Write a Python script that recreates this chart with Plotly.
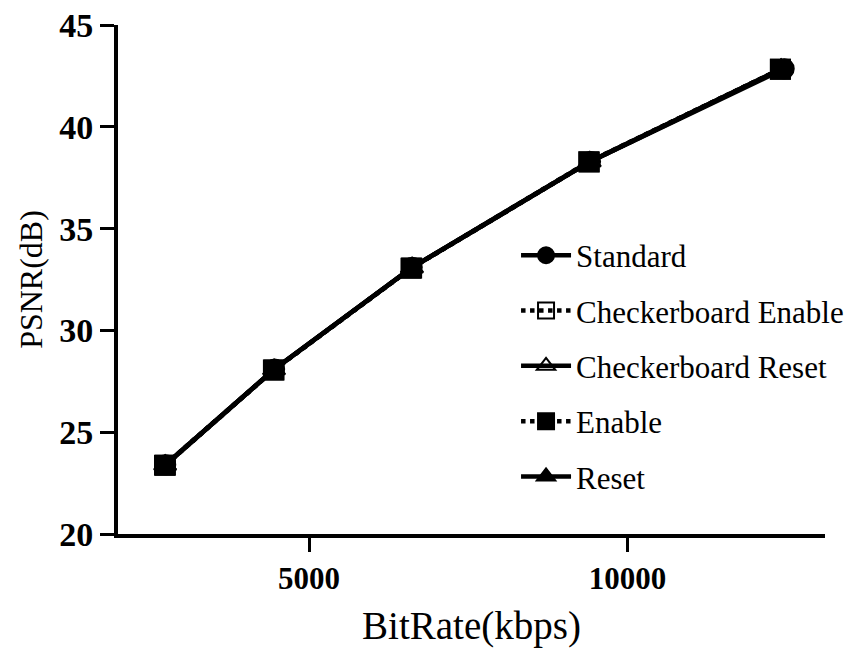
import plotly.graph_objects as go

bitrate_standard = [2750, 4460, 6620, 9420, 12460]
bitrate_cb_enable = [2730, 4440, 6600, 9390, 12400]
bitrate_cb_reset = [2740, 4450, 6610, 9400, 12410]
bitrate_enable = [2745, 4450, 6610, 9400, 12400]
bitrate_reset = [2740, 4450, 6620, 9410, 12410]

psnr_standard = [23.40, 28.10, 33.10, 38.30, 42.85]
psnr_cb_enable = [23.38, 28.05, 33.05, 38.28, 42.83]
psnr_cb_reset = [23.39, 28.08, 33.08, 38.29, 42.84]
psnr_enable = [23.38, 28.06, 33.06, 38.27, 42.83]
psnr_reset = [23.39, 28.09, 33.09, 38.29, 42.84]

x_ticks = [5000, 10000]
y_ticks = [20, 25, 30, 35, 40, 45]

names = ["Standard", "Checkerboard Enable", "Checkerboard Reset", "Enable", "Reset"]
xs = [bitrate_standard, bitrate_cb_enable, bitrate_cb_reset, bitrate_enable, bitrate_reset]
series = [psnr_standard, psnr_cb_enable, psnr_cb_reset, psnr_enable, psnr_reset]
symbols = ["circle", "square-open", "triangle-up-open", "square", "triangle-up"]
dashes = ["solid", "dot", "solid", "dot", "solid"]

fig = go.Figure()
for i, (n, xv, ys, sym, d) in enumerate(zip(names, xs, series, symbols, dashes)):
    fig.add_trace(go.Scatter(
        x=xv, y=ys, name=n, mode="lines+markers",
        line=dict(color="black", width=4.5, dash=d),
        marker=dict(symbol=sym, size=19, color="black",
                    line=dict(color="black", width=2)),
        legendgroup=f"g{i}",
    ))

fig.update_layout(
    width=861, height=656,
    margin=dict(l=110, r=44, t=17, b=130, autoexpand=False),
    paper_bgcolor="white", plot_bgcolor="white",
    font=dict(family="Liberation Serif", color="black"),
    showlegend=True,
    legend=dict(
        x=0.563, y=0.60, xanchor="left", yanchor="top",
        font=dict(family="Liberation Serif", size=31, color="black"),
        tracegroupgap=12, bgcolor="rgba(0,0,0,0)", itemwidth=50,
    ),
    xaxis=dict(
        range=[2000, 13100], tickvals=x_ticks, ticktext=[f"<b>{v}</b>" for v in x_ticks],
        showgrid=False, zeroline=False, showline=True, linecolor="black", linewidth=4,
        ticks="outside", ticklen=14, tickwidth=3, tickcolor="black", automargin=False,
        tickfont=dict(family="Liberation Serif", size=31, color="black"),
        title=dict(text="BitRate(kbps)", font=dict(family="Liberation Serif", size=39, color="black"), standoff=17),
    ),
    yaxis=dict(
        range=[20, 45], tickvals=y_ticks, ticktext=[f"<b>{v}</b>" for v in y_ticks],
        showgrid=False, zeroline=False, showline=True, linecolor="black", linewidth=4,
        ticks="outside", ticklen=14, tickwidth=3, tickcolor="black", automargin=False,
        ticklabeloverflow="allow",
        tickfont=dict(family="Liberation Serif", size=34, color="black"),
        title=dict(text="PSNR(dB)", font=dict(family="Liberation Serif", size=32, color="black"), standoff=8),
    ),
)

fig.write_html("out.html")
